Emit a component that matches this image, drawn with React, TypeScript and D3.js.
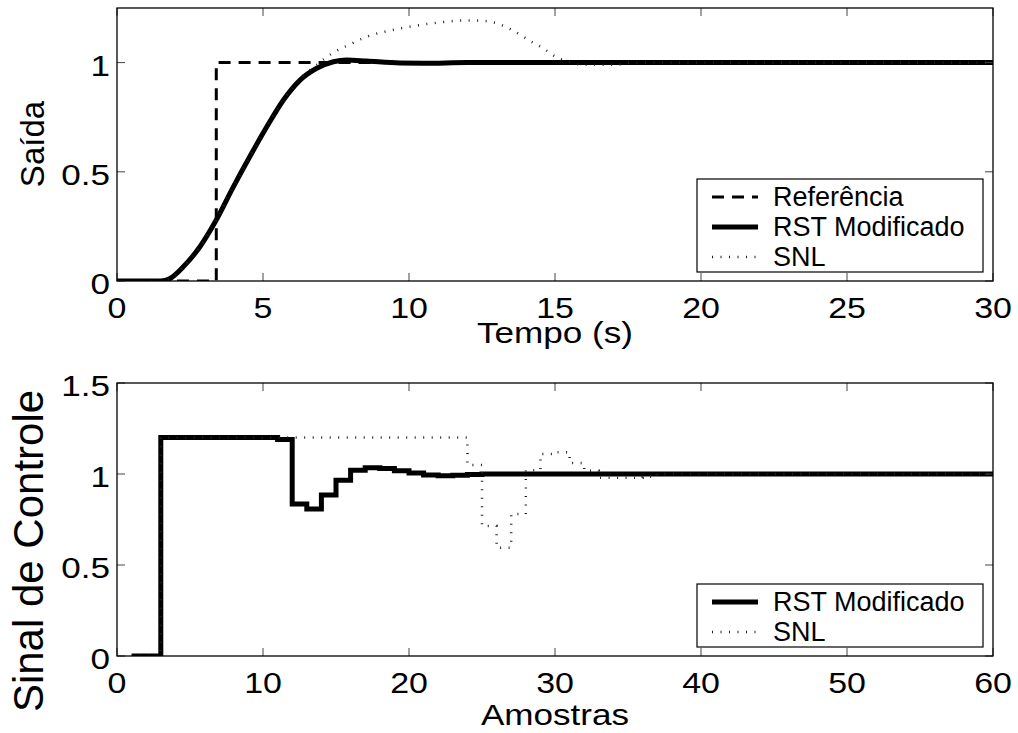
import React from 'react';
import * as d3 from 'd3';

// saída (gráfico de cima), tempo em segundos
const refTempo = [0, 3.4, 3.4, 30];
const refSaida = [0, 0, 1, 1];

const rstTempo = [0, 1.5, 1.8, 2.27, 2.84, 3.36, 3.98, 4.55, 5.13, 5.7, 6.27, 6.84, 7.41, 7.87, 8.55, 9.69, 10.5, 12, 30];
const rstSaida = [0, 0, 0.01, 0.065, 0.157, 0.27, 0.43, 0.57, 0.706, 0.829, 0.92, 0.974, 1.004, 1.012, 1.007, 0.998, 0.997, 1, 1];

const snlTempo = [0, 1.5, 1.8, 2.27, 2.84, 3.36, 3.98, 4.55, 5.13, 5.7, 6.27, 6.84, 7.4, 8.0, 8.55, 9.69, 10.8, 11.98, 12.43, 13.0, 13.57, 14.14, 14.6, 15.06, 15.4, 16.0, 17.1, 17.6, 30];
const snlSaida = [0, 0, 0.01, 0.065, 0.157, 0.27, 0.43, 0.57, 0.706, 0.829, 0.925, 0.99, 1.045, 1.085, 1.118, 1.156, 1.18, 1.193, 1.192, 1.18, 1.146, 1.1, 1.065, 1.024, 1.007, 0.99, 0.99, 1, 1];

// sinal de controle (gráfico de baixo), amostras 1..60
const amostras = [
  1, 2, 3, 4, 5, 6, 7, 8, 9, 10, 11, 12, 13, 14, 15, 16, 17, 18, 19, 20,
  21, 22, 23, 24, 25, 26, 27, 28, 29, 30, 31, 32, 33, 34, 35, 36, 37, 38, 39, 40,
  41, 42, 43, 44, 45, 46, 47, 48, 49, 50, 51, 52, 53, 54, 55, 56, 57, 58, 59, 60,
];
const controleRST = [
  0, 0, 1.2, 1.2, 1.2, 1.2, 1.2, 1.2, 1.2, 1.2, 1.19, 0.835, 0.808, 0.885, 0.965, 1.02, 1.035, 1.03, 1.018, 1.005,
  0.995, 0.99, 0.993, 0.997, 1, 1, 1, 1, 1, 1, 1, 1, 1, 1, 1, 1, 1, 1, 1, 1,
  1, 1, 1, 1, 1, 1, 1, 1, 1, 1, 1, 1, 1, 1, 1, 1, 1, 1, 1, 1,
];
const controleSNL = [
  0, 0, 1.2, 1.2, 1.2, 1.2, 1.2, 1.2, 1.2, 1.2, 1.2, 1.2, 1.2, 1.2, 1.2, 1.2, 1.2, 1.2, 1.2, 1.2,
  1.2, 1.2, 1.2, 1.05, 0.714, 0.595, 0.78, 1.02, 1.11, 1.12, 1.06, 1.018, 0.98, 0.98, 0.98, 0.985, 1, 1, 1, 1,
  1, 1, 1, 1, 1, 1, 1, 1, 1, 1, 1, 1, 1, 1, 1, 1, 1, 1, 1, 1,
];

const ticksTempo = [0, 5, 10, 15, 20, 25, 30];
const ticksSaida = [0, 0.5, 1];
const ticksAmostras = [0, 10, 20, 30, 40, 50, 60];
const ticksControle = [0, 0.5, 1, 1.5];

const FONT = '"Liberation Sans", Arial, Helvetica, sans-serif';
const SX = 1.17; // o texto do original é mais largo

const zip = (xs: number[], ys: number[]) => xs.map((x, i) => [x, ys[i]] as [number, number]);

const styles = {
  ref: { stroke: '#000', strokeWidth: 3, strokeDasharray: '12 8' },
  rst: { stroke: '#000', strokeWidth: 5 },
  snl: { stroke: '#222', strokeWidth: 2.5, strokeDasharray: '1 7.5' },
};

function WideText({ x, y, size, anchor, children }: any) {
  return (
    <text transform={`translate(${x},${y}) scale(${SX},1)`} textAnchor={anchor} fontSize={size}>{children}</text>
  );
}

function Axes({ x, y, xTicks, yTicks, xLabel, xLabelY, yLabel, yLabelX, yLabelY, yLabelSize, clipId, children }: any) {
  const [x0, x1] = x.range();
  const [y1, y0] = y.range();
  const tk = 8;
  return (
    <g>
      <defs>
        <clipPath id={clipId}>
          <rect x={x0} y={y0} width={x1 - x0} height={y1 - y0} />
        </clipPath>
      </defs>
      <g clipPath={`url(#${clipId})`}>{children}</g>
      {xTicks.map((t: number) => (
        <g key={'x' + t}>
          <line x1={x(t)} x2={x(t)} y1={y1} y2={y1 - tk} stroke="#444" />
          <line x1={x(t)} x2={x(t)} y1={y0} y2={y0 + tk} stroke="#444" />
          <WideText x={x(t)} y={y1 + 36.5} size={29} anchor="middle">{t}</WideText>
        </g>
      ))}
      {yTicks.map((t: number) => (
        <g key={'y' + t}>
          <line x1={x0} x2={x0 + tk} y1={y(t)} y2={y(t)} stroke="#444" />
          <line x1={x1} x2={x1 - tk} y1={y(t)} y2={y(t)} stroke="#444" />
          <WideText x={110} y={y(t) + 13} size={30} anchor="end">{t}</WideText>
        </g>
      ))}
      <rect x={x0} y={y0} width={x1 - x0} height={y1 - y0} fill="none" stroke="#000" strokeWidth={1.3} />
      <WideText x={(x0 + x1) / 2} y={xLabelY} size={30} anchor="middle">{xLabel}</WideText>
      <text transform={`translate(${yLabelX},${yLabelY}) rotate(-90)`} textAnchor="middle" dominantBaseline="central" fontSize={yLabelSize}>{yLabel}</text>
    </g>
  );
}

function Legend({ x, y, w, items }: any) {
  const rowH = 30;
  const h = items.length * rowH + 3;
  return (
    <g>
      <rect x={x} y={y} width={w} height={h} fill="#fff" stroke="#000" strokeWidth={1.2} />
      {items.map((it: any, i: number) => {
        const cy = y + 18 + i * rowH;
        return (
          <g key={it.label}>
            <line x1={x + 15} x2={x + 61} y1={cy} y2={cy} fill="none" {...it.style} />
            <text x={x + 76} y={cy + 9} fontSize={27}>{it.label}</text>
          </g>
        );
      })}
    </g>
  );
}

export default function App() {
  const xT = d3.scaleLinear().domain([0, 30]).range([117, 993]);
  const yT = d3.scaleLinear().domain([0, 1.25]).range([281, 8]);
  const xB = d3.scaleLinear().domain([0, 60]).range([117, 993]);
  const yB = d3.scaleLinear().domain([0, 1.5]).range([656, 383]);

  const lineT = d3.line<[number, number]>().x(d => xT(d[0])).y(d => yT(d[1]));
  const smoothT = d3.line<[number, number]>().x(d => xT(d[0])).y(d => yT(d[1])).curve(d3.curveMonotoneX);
  const stairs = d3.line<[number, number]>().x(d => xB(d[0])).y(d => yB(d[1])).curve(d3.curveStepAfter);

  return (
    <svg width={1018} height={733} style={{ position: 'absolute', left: 0, top: 0, background: '#fff' }} fontFamily={FONT}>
      <rect width={1018} height={733} fill="#fff" />
      <Axes x={xT} y={yT} xTicks={ticksTempo} yTicks={ticksSaida} xLabel="Tempo (s)" xLabelY={343} yLabel="Saída" yLabelX={32} yLabelY={144} yLabelSize={33} clipId="clipTop">
        <path d={lineT(zip(refTempo, refSaida)) || ''} fill="none" {...styles.ref} />
        <path d={smoothT(zip(rstTempo, rstSaida)) || ''} fill="none" {...styles.rst} strokeLinejoin="round" />
        <path d={smoothT(zip(snlTempo, snlSaida)) || ''} fill="none" {...styles.snl} />
      </Axes>
      <Legend x={697} y={179} w={286} items={[
        { label: 'Referência', style: styles.ref },
        { label: 'RST Modificado', style: styles.rst },
        { label: 'SNL', style: styles.snl },
      ]} />

      <Axes x={xB} y={yB} xTicks={ticksAmostras} yTicks={ticksControle} xLabel="Amostras" xLabelY={725} yLabel="Sinal de Controle" yLabelX={28} yLabelY={551} yLabelSize={42} clipId="clipBot">
        <path d={stairs(zip(amostras, controleRST)) || ''} fill="none" {...styles.rst} />
        <path d={stairs(zip(amostras, controleSNL)) || ''} fill="none" {...styles.snl} />
      </Axes>
      <Legend x={697} y={584} w={286} items={[
        { label: 'RST Modificado', style: styles.rst },
        { label: 'SNL', style: styles.snl },
      ]} />
    </svg>
  );
}
